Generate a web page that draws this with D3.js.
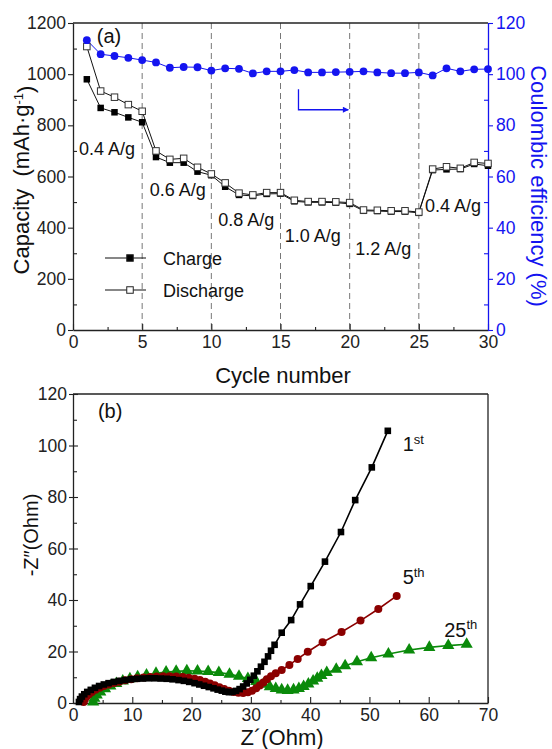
<!DOCTYPE html>
<html><head><meta charset="utf-8">
<script src="https://cdn.jsdelivr.net/npm/d3@7/dist/d3.min.js"></script>
<style>
html,body{margin:0;padding:0;background:#fff;}
text{font-family:"Liberation Sans",Arial,Helvetica,sans-serif;}
</style></head><body>
<svg id="c" width="552" height="749"></svg>
<script>
// ---------------- Panel (a) data ----------------
const cycles = [1,2,3,4,5,6,7,8,9,10,11,12,13,14,15,16,17,18,19,20,21,22,23,24,25,26,27,28,29,30];
const chargeCap = [980,868,851,831,812,676,654,654,619,605,560,528,524,532,533,503,499,499,498,493,466,465,463,463,458,625,628,629,649,642];
const dischargeCap = [1108,934,910,881,855,700,667,671,636,610,575,535,528,537,537,507,502,502,501,498,469,468,466,466,461,629,638,632,655,651];
const coulombic = [113.3,107.8,107.1,106.4,105.5,104.6,102.5,102.8,102.7,101.4,102.3,102.1,100.3,101.1,101.1,101.6,100.7,100.7,100.8,100.9,101.1,100.7,100.4,100.4,100.7,99.5,102.3,101.1,101.9,102.0];
const rateDividers = [5,10,15,20,25];
const rateLabels = ["0.4 A/g","0.6 A/g","0.8 A/g","1.0 A/g","1.2 A/g","0.4 A/g"];
const rateLabelCycle = [0.43,5.55,10.5,15.3,20.4,25.45];
const rateLabelCap = [684,525,408,343,292,461];
const capTicks = [0,200,400,600,800,1000,1200];
const capMinor = [100,300,500,700,900,1100];
const ceTicks = [0,20,40,60,80,100,120];
const ceMinor = [10,30,50,70,90,110];
const cycleTicks = [0,5,10,15,20,25,30];
const cycleMinor = [2.5,7.5,12.5,17.5,22.5,27.5];
const arrowCycle = [16.3,16.3,19.9];
const arrowCE = [94.1,86.1,86.1];

// ---------------- Panel (b) data ----------------
const z1Re = [1.0,1.2,1.5,1.9,2.4,3.0,3.7,4.4,5.2,6.0,6.9,7.8,8.8,9.8,10.8,11.8,12.8,13.8,14.8,15.8,16.8,17.8,18.7,19.6,20.5,21.3,22.1,22.9,23.7,24.4,25.1,25.7,26.3,26.9,27.5,28.1,28.7,29.3,29.9,30.5,31.1,31.7,32.3,32.9,33.4,34.0,35.2,36.8,38.3,40.1,42.5,45.2,47.6,50.4,53.1];
const z1Im = [0.4,1.5,2.5,3.4,4.3,5.1,5.9,6.6,7.2,7.7,8.2,8.6,8.9,9.2,9.4,9.5,9.6,9.6,9.5,9.4,9.2,8.9,8.6,8.2,7.7,7.2,6.7,6.2,5.7,5.2,4.8,4.4,4.2,4.3,4.7,5.4,6.4,7.6,9.0,10.6,12.3,14.1,16.0,18.1,20.3,22.6,27.3,32.2,38.3,45.4,54.9,66.4,78.8,91.5,105.7];
const z5Re = [1.8,2.0,2.3,2.7,3.2,3.8,4.5,5.2,6.0,6.9,7.8,8.8,9.8,10.8,11.9,13.0,14.1,15.2,16.3,17.4,18.5,19.5,20.5,21.4,22.3,23.1,23.9,24.7,25.5,26.3,27.1,27.9,28.7,29.5,30.2,30.9,31.5,32.1,32.7,33.4,34.2,35.2,36.5,37.9,39.6,42.1,45.3,48.5,51.5,54.6];
const z5Im = [0.4,1.5,2.5,3.4,4.3,5.1,5.9,6.6,7.2,7.8,8.3,8.8,9.2,9.6,9.9,10.1,10.3,10.4,10.4,10.3,10.1,9.8,9.4,8.9,8.3,7.6,6.9,6.1,5.4,4.8,4.3,4.0,3.9,4.2,4.8,5.7,6.8,8.0,9.2,10.4,11.6,12.8,14.8,17.1,19.9,23.6,27.6,32.0,36.5,41.6];
const z25Re = [3.4,3.6,4.0,4.6,5.4,6.3,7.3,8.4,9.6,10.9,12.4,14.0,15.7,17.4,19.2,21.0,22.8,24.6,26.4,28.0,29.5,30.9,32.1,33.2,34.2,35.2,36.2,37.2,38.1,38.9,39.7,40.5,41.2,41.9,42.8,44.4,45.9,47.9,50.3,53.2,56.7,60.1,63.3,66.4];
const z25Im = [0.4,1.8,3.1,4.3,5.5,6.6,7.6,8.5,9.4,10.2,10.9,11.5,12.0,12.3,12.5,12.4,12.2,11.8,11.2,10.4,9.5,8.4,7.3,6.3,5.6,5.1,4.9,5.1,5.6,6.4,7.4,8.5,9.6,10.7,11.8,13.1,14.5,16.0,17.6,19.0,20.6,21.6,22.3,22.8];
const zTicksX = [0,10,20,30,40,50,60,70];
const zMinorX = [5,15,25,35,45,55,65];
const zTicksY = [0,20,40,60,80,100,120];
const zMinorY = [10,30,50,70,90,110];
const seriesNames = ["1","5","25"];
const seriesSup = ["st","th","th"];

// ---------------- drawing ----------------
const svg = d3.select("#c");
svg.append("rect").attr("width",552).attr("height",749).attr("fill","#fff");
const BLUE = "#1414f0", RED = "#8b0000", GREEN = "#0a8a0a";
const TICKFS = "17.5px", TITLEFS = "22px";

function styleAxis(g, color){
  g.selectAll("path.domain").attr("stroke",color).attr("stroke-width",1.3);
  g.selectAll(".tick line").attr("stroke",color).attr("stroke-width",1.1);
  g.selectAll(".tick text").attr("fill",color).style("font-size",TICKFS)
    .style("font-family",'"Liberation Sans",Arial,sans-serif');
}
function minor(g, color){
  g.select("path.domain").remove();
  g.selectAll(".tick line").attr("stroke",color).attr("stroke-width",1.1);
  g.selectAll(".tick text").remove();
}

// ===== Panel (a) =====
const xA = d3.scaleLinear().domain([0,30]).range([73,488]);
const yA = d3.scaleLinear().domain([0,1200]).range([330,23]);
const yC = d3.scaleLinear().domain([0,120]).range([330,23]);

// dashed dividers
svg.append("g").selectAll("line").data(rateDividers).join("line")
  .attr("x1",d=>xA(d)).attr("x2",d=>xA(d)).attr("y1",yA(1200)).attr("y2",yA(0))
  .attr("stroke","#777").attr("stroke-width",1).attr("stroke-dasharray","6,4");

// top frame
svg.append("line").attr("x1",xA(0)).attr("x2",xA(30)).attr("y1",yA(1200)).attr("y2",yA(1200))
  .attr("stroke","#222").attr("stroke-width",1.3);

// axes
svg.append("g").attr("transform",`translate(0,${yA(0)})`)
  .call(d3.axisBottom(xA).tickValues(cycleTicks).tickFormat(d3.format("d")).tickSizeInner(-6).tickSizeOuter(0).tickPadding(6))
  .call(g=>styleAxis(g,"#222"));
svg.append("g").attr("transform",`translate(0,${yA(0)})`)
  .call(d3.axisBottom(xA).tickValues(cycleMinor).tickSizeInner(-3).tickSizeOuter(0))
  .call(g=>minor(g,"#222"));
svg.append("g").attr("transform",`translate(${xA(0)},0)`)
  .call(d3.axisLeft(yA).tickValues(capTicks).tickFormat(d3.format("d")).tickSizeInner(5).tickSizeOuter(0).tickPadding(2))
  .call(g=>styleAxis(g,"#222"));
svg.append("g").attr("transform",`translate(${xA(0)},0)`)
  .call(d3.axisLeft(yA).tickValues(capMinor).tickSizeInner(-4).tickSizeOuter(0))
  .call(g=>minor(g,"#222"));
svg.append("g").attr("transform",`translate(${xA(30)},0)`)
  .call(d3.axisRight(yC).tickValues(ceTicks).tickFormat(d3.format("d")).tickSizeInner(5).tickSizeOuter(0).tickPadding(3))
  .call(g=>styleAxis(g,BLUE));
svg.append("g").attr("transform",`translate(${xA(30)},0)`)
  .call(d3.axisRight(yC).tickValues(ceMinor).tickSizeInner(-4).tickSizeOuter(0))
  .call(g=>minor(g,BLUE));

// series lines
const lineCap = d3.line().x(d=>xA(d[0])).y(d=>yA(d[1]));
const chargePts = cycles.map((c,i)=>[c,chargeCap[i]]);
const dischargePts = cycles.map((c,i)=>[c,dischargeCap[i]]);
const cePts = cycles.map((c,i)=>[c,coulombic[i]]);
svg.append("path").attr("d",lineCap(chargePts)).attr("fill","none").attr("stroke","#111").attr("stroke-width",1);
svg.append("path").attr("d",lineCap(dischargePts)).attr("fill","none").attr("stroke","#111").attr("stroke-width",1);
svg.append("path").attr("d",d3.line().x(d=>xA(d[0])).y(d=>yC(d[1]))(cePts))
  .attr("fill","none").attr("stroke",BLUE).attr("stroke-width",1);

const S = 6.5;
svg.append("g").selectAll("rect").data(chargePts).join("rect")
  .attr("x",d=>xA(d[0])-S/2).attr("y",d=>yA(d[1])-S/2).attr("width",S).attr("height",S).attr("fill","#000");
svg.append("g").selectAll("rect").data(dischargePts).join("rect")
  .attr("x",d=>xA(d[0])-S/2).attr("y",d=>yA(d[1])-S/2).attr("width",S).attr("height",S)
  .attr("fill","#fff").attr("stroke","#333").attr("stroke-width",1);
svg.append("g").selectAll("circle").data(cePts).join("circle")
  .attr("cx",d=>xA(d[0])).attr("cy",d=>yC(d[1])).attr("r",3.9).attr("fill",BLUE);

// blue arrow
svg.append("defs").append("marker").attr("id","ah").attr("viewBox","0 0 10 10")
  .attr("refX",9).attr("refY",5).attr("markerWidth",10).attr("markerHeight",6)
  .attr("markerUnits","userSpaceOnUse").attr("orient","auto")
  .append("path").attr("d","M0,0L10,5L0,10Z").attr("fill",BLUE);
svg.append("path")
  .attr("d",d3.line().x(d=>xA(d[0])).y(d=>yC(d[1]))(arrowCycle.map((c,i)=>[c,arrowCE[i]])))
  .attr("fill","none").attr("stroke",BLUE).attr("stroke-width",1.3).attr("marker-end","url(#ah)");

// rate labels
svg.append("g").selectAll("text").data(rateLabels).join("text")
  .attr("x",(d,i)=>xA(rateLabelCycle[i])).attr("y",(d,i)=>yA(rateLabelCap[i]))
  .style("font-size","18px").attr("fill","#111").text(d=>d);

// (a)
svg.append("text").attr("x",xA(1.72)).attr("y",yA(1122)).style("font-size","20px").attr("fill","#111").text("(a)");

// legend
const legend = [{name:"Charge",fill:"#000",y:258},{name:"Discharge",fill:"#fff",y:290}];
legend.forEach(l=>{
  svg.append("line").attr("x1",105).attr("x2",146).attr("y1",l.y).attr("y2",l.y).attr("stroke","#111").attr("stroke-width",1.2);
  svg.append("rect").attr("x",130-S/2).attr("y",l.y-S/2).attr("width",S).attr("height",S)
    .attr("fill",l.fill).attr("stroke","#222").attr("stroke-width",1);
  svg.append("text").attr("x",163).attr("y",l.y+6.5).style("font-size","18px").attr("fill","#111").text(l.name);
});

// titles (a)
const capTitle = svg.append("text").attr("transform","translate(29,180) rotate(-90)")
  .attr("text-anchor","middle").style("font-size",TITLEFS).attr("fill","#111");
capTitle.append("tspan").text("Capacity\u00a0\u00a0(mAh\u00b7g");
capTitle.append("tspan").attr("dy","-0.45em").style("font-size","13px").text("-1");
capTitle.append("tspan").attr("dy","0.45em").text(")");
svg.append("text").attr("x",283).attr("y",383).attr("text-anchor","middle").style("font-size",TITLEFS)
  .attr("fill","#111").text("Cycle number");
svg.append("text").attr("transform","translate(531,186) rotate(90)").attr("text-anchor","middle")
  .style("font-size",TITLEFS).attr("fill",BLUE).text("Coulombic efficiency (%)");

// ===== Panel (b) =====
const xB = d3.scaleLinear().domain([0,70]).range([73,488]);
const yB = d3.scaleLinear().domain([0,120]).range([703,394]);

svg.append("line").attr("x1",xB(0)).attr("x2",xB(70)).attr("y1",yB(120)).attr("y2",yB(120)).attr("stroke","#222").attr("stroke-width",1.3);
svg.append("line").attr("x1",xB(70)).attr("x2",xB(70)).attr("y1",yB(120)).attr("y2",yB(0)).attr("stroke","#222").attr("stroke-width",1.3);

svg.append("g").attr("transform",`translate(0,${yB(0)})`)
  .call(d3.axisBottom(xB).tickValues(zTicksX).tickFormat(d3.format("d")).tickSizeInner(-6).tickSizeOuter(0).tickPadding(6))
  .call(g=>styleAxis(g,"#222"));
svg.append("g").attr("transform",`translate(0,${yB(0)})`)
  .call(d3.axisBottom(xB).tickValues(zMinorX).tickSizeInner(-3).tickSizeOuter(0))
  .call(g=>minor(g,"#222"));
svg.append("g").attr("transform",`translate(${xB(0)},0)`)
  .call(d3.axisLeft(yB).tickValues(zTicksY).tickFormat(d3.format("d")).tickSizeInner(4).tickSizeOuter(0).tickPadding(2))
  .call(g=>styleAxis(g,"#222"));
svg.append("g").attr("transform",`translate(${xB(0)},0)`)
  .call(d3.axisLeft(yB).tickValues(zTicksY).tickSizeInner(-5).tickSizeOuter(0))
  .call(g=>minor(g,"#222"));
svg.append("g").attr("transform",`translate(${xB(0)},0)`)
  .call(d3.axisLeft(yB).tickValues(zMinorY).tickSizeInner(-4).tickSizeOuter(0))
  .call(g=>minor(g,"#222"));

const lineB = d3.line().x(d=>xB(d[0])).y(d=>yB(d[1]));
const s1 = z1Re.map((x,i)=>[x,z1Im[i]]);
const s5 = z5Re.map((x,i)=>[x,z5Im[i]]);
const s25 = z25Re.map((x,i)=>[x,z25Im[i]]);

svg.append("path").attr("d",lineB(s25)).attr("fill","none").attr("stroke",GREEN).attr("stroke-width",1.6);
svg.append("g").selectAll("path").data(s25).join("path")
  .attr("d",d3.symbol(d3.symbolTriangle,64)())
  .attr("transform",d=>`translate(${xB(d[0])},${yB(d[1])})`).attr("fill",GREEN);

svg.append("path").attr("d",lineB(s5)).attr("fill","none").attr("stroke",RED).attr("stroke-width",1.6);
svg.append("g").selectAll("circle").data(s5).join("circle")
  .attr("cx",d=>xB(d[0])).attr("cy",d=>yB(d[1])).attr("r",4).attr("fill",RED);

svg.append("path").attr("d",lineB(s1)).attr("fill","none").attr("stroke","#000").attr("stroke-width",1.6);
svg.append("g").selectAll("rect").data(s1).join("rect")
  .attr("x",d=>xB(d[0])-3.3).attr("y",d=>yB(d[1])-3.3).attr("width",6.6).attr("height",6.6).attr("fill","#000");

// cycle labels
const lblPos = [[55.6,98],[55.6,46.2],[62.6,25.8]];
seriesNames.forEach((n,i)=>{
  const t = svg.append("text").attr("x",xB(lblPos[i][0])).attr("y",yB(lblPos[i][1]))
    .style("font-size","20px").attr("fill","#111");
  t.append("tspan").text(n);
  t.append("tspan").attr("dy","-0.55em").style("font-size","13px").text(seriesSup[i]);
});

svg.append("text").attr("x",xB(4.2)).attr("y",yB(110.8)).style("font-size","20px").attr("fill","#111").text("(b)");

svg.append("text").attr("transform","translate(38,535) rotate(-90)").attr("text-anchor","middle")
  .style("font-size","20px").attr("fill","#111").text("-Z\u2033(Ohm)");
svg.append("text").attr("x",282).attr("y",745).attr("text-anchor","middle")
  .style("font-size",TITLEFS).attr("fill","#111").text("Z\u00b4(Ohm)");
</script>
</body></html>
